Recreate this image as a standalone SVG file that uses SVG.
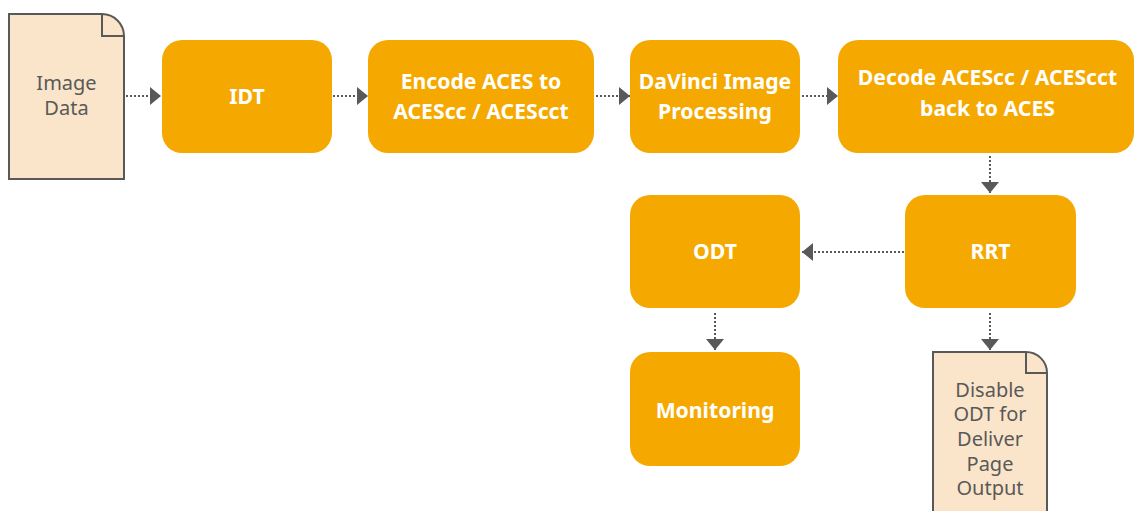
<svg xmlns="http://www.w3.org/2000/svg" width="1135" height="511" viewBox="0 0 1135 511">
  <defs>
    <style>
      .box { fill: #f5a900; }
      .note { fill: #fbe5ca; stroke: #595959; stroke-width: 2; }
      .fold { fill: none; stroke: #595959; stroke-width: 2; }
      .bt { font-family: "Noto Sans", "Open Sans", sans-serif; font-weight: bold; font-size: 21.2px; fill: #ffffff; text-anchor: middle; }
      .nt { font-family: "Noto Sans", "Open Sans", sans-serif; font-size: 20px; fill: #595959; text-anchor: middle; }
      .conn { stroke: #595959; stroke-width: 2; stroke-dasharray: 2 2; fill: none; marker-end: url(#arrow); }
    </style>
    <marker id="arrow" markerUnits="userSpaceOnUse" markerWidth="11" markerHeight="18" refX="11" refY="9" orient="auto" viewBox="0 0 11 18">
      <path d="M0,0 L11,9 L0,18 Z" fill="#595959"/>
    </marker>
  </defs>

  <g id="connectors">
    <line class="conn" x1="126" y1="96" x2="161" y2="96"/>
    <line class="conn" x1="333" y1="96" x2="368" y2="96"/>
    <line class="conn" x1="596" y1="96" x2="630" y2="96"/>
    <line class="conn" x1="802" y1="96" x2="838" y2="96"/>
    <line class="conn" x1="990" y1="156" x2="990" y2="193"/>
    <line class="conn" x1="904" y1="252" x2="802" y2="252"/>
    <line class="conn" x1="715" y1="313" x2="715" y2="350"/>
    <line class="conn" x1="990" y1="313" x2="990" y2="350"/>
  </g>

  <g id="image-data">
    <path class="note" d="M9,14 H102 A22,22 0 0 1 124,36 V179 H9 Z"/>
    <path class="fold" d="M102,14 V36 H124"/>
    <text class="nt" x="66.5" y="90">Image</text>
    <text class="nt" x="66.5" y="115">Data</text>
  </g>

  <g id="idt">
    <rect class="box" x="162" y="40" width="170" height="113" rx="20"/>
    <text class="bt" x="247" y="104">IDT</text>
  </g>

  <g id="encode">
    <rect class="box" x="368" y="40" width="226" height="113" rx="20"/>
    <text class="bt" x="481" y="89">Encode ACES to</text>
    <text class="bt" x="481" y="118.5">ACEScc / ACEScct</text>
  </g>

  <g id="davinci">
    <rect class="box" x="630" y="40" width="170" height="113" rx="20"/>
    <text class="bt" x="715" y="89">DaVinci Image</text>
    <text class="bt" x="715" y="119">Processing</text>
  </g>

  <g id="decode">
    <rect class="box" x="838" y="40" width="296" height="113" rx="20"/>
    <text class="bt" x="987.5" y="85">Decode ACEScc / ACEScct</text>
    <text class="bt" x="987.5" y="116">back to ACES</text>
  </g>

  <g id="rrt">
    <rect class="box" x="905" y="195" width="171" height="113" rx="20"/>
    <text class="bt" x="990.5" y="259">RRT</text>
  </g>

  <g id="odt">
    <rect class="box" x="630" y="195" width="170" height="113" rx="20"/>
    <text class="bt" x="715" y="259">ODT</text>
  </g>

  <g id="monitoring">
    <rect class="box" x="630" y="352" width="170" height="114" rx="20"/>
    <text class="bt" x="715" y="417.5">Monitoring</text>
  </g>

  <g id="disable-odt">
    <path class="note" d="M933,352 H1026 A21,21 0 0 1 1047,373 V516 H933 Z"/>
    <path class="fold" d="M1026,352 V373 H1047"/>
    <text class="nt" x="990" y="396.5">Disable</text>
    <text class="nt" x="990" y="421">ODT for</text>
    <text class="nt" x="990" y="446">Deliver</text>
    <text class="nt" x="990" y="470.5">Page</text>
    <text class="nt" x="990" y="495">Output</text>
  </g>
</svg>
